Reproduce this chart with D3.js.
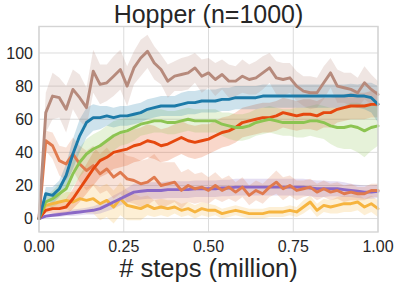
<!DOCTYPE html>
<html><head><meta charset="utf-8">
<script src="https://cdn.jsdelivr.net/npm/d3@7"></script>
<style>body{margin:0;background:#fff}svg{display:block}text{font-family:"Liberation Sans",Arial,sans-serif;fill:#262626}</style>
</head><body><svg id="c" width="399" height="286"></svg>
<script>
const title = "Hopper (n=1000)";
const xLabel = "# steps (million)";
const xTicks = [0, 0.25, 0.5, 0.75, 1.0];
const yTicks = [0, 20, 40, 60, 80, 100];
const steps = d3.range(51).map(i => i * 0.02);

const seriesNames = ["yellow", "purple", "coral", "red", "green", "blue", "brown"];
const seriesColors = ["#f6b43f", "#8a68c6", "#e07a4e", "#e5480f", "#8cc451", "#1c7aa8", "#b68a7c"];

const brownMean = [0,64,74,73,66,78,73,67,89,81,82,86,90,80,91,97,101,94,90,83,86,87,88,91,86,88,84,87,83,83,86,84,85,88,91,85,84,85,80,77,76,76,82,88,80,79,78,76,82,78,75];
const brownSpread = [0,12,14,12,14,12,14,12,13,12,11,12,12,12,10,11,10,10,9,10,9,10,10,9,10,9,10,9,10,9,10,9,10,10,9,10,10,9,9,9,10,9,10,9,10,9,10,9,10,9,8];

const blueMean = [0,15,14,18,26,39,50,58,61,61,62,61,62,62,63,64,66,67,68,68,68,69,70,70,71,71,71,72,72,73,73,73,73,74,74,74,74,74,74,74,74,74,74,74,74,74,74.5,74,74,73,69];
const blueSpread = [0,4,5,5,7,9,10,9,8,7,6,6,6,6,6,6,6,6,6,6,6,7,7,7,7,7,7,7,7,7,7,7,7,7,7,7,7,7,7,7,7,7,7,7,7,7,7,7,8,9,11];

const greenMean = [0,10,12,15,18,27,34,39,42,44,47,50,52,53,55,57,58,59,59,58,58,59,60,59,59,59,59,57,56,55,55,56,58,59,60,59,58,58,58,58,59,59,58,56,55,55,56,55,53,55,56];
const greenSpread = [0,3,5,6,7,8,9,9,9,9,9,9,8,8,8,7,7,7,7,7,7,7,7,7,7,7,7,7,8,8,8,8,8,8,8,8,8,8,9,9,9,10,10,11,12,13,14,15,16,14,12];

const redMean = [0,5,6,6,7,12,18,24,30,35,37,40,41,42,44,45,47,46,44,45,47,49,47,46,47,48,50,52,53,55,58,59,60,61,61,62,64,63,62,63,63,62,64,64,66,67,68,68,68,69,69];
const redSpread = [0,2,3,3,5,6,8,9,10,10,10,10,10,10,10,10,10,10,10,10,10,10,10,10,10,9,9,9,9,9,9,9,9,9,9,9,9,9,9,9,9,9,9,9,8,8,8,8,8,8,8];

const coralMean = [0,47,44,35,33,39,33,29,32,27,30,25,28,24,23,21,22,25,20,21,22,17,20,18,19,17,20,17,19,16,19,14,17,15,19,22,18,20,17,18,19,16,18,16,17,15,16,15,15,17,17];
const coralSpread = [0,6,8,9,10,10,11,12,12,12,13,13,13,14,14,14,14,14,14,13,12,11,10,9,9,8,8,7,7,6,6,6,6,6,6,7,7,6,6,5,5,5,5,5,5,5,5,4,4,4,4];

const purpleMean = [0,1.5,2,2.5,3,3.5,4,4.5,5,6,8,10,12,14,16,16.5,17,17,17,17.5,17.5,17.5,17.5,18,18,18,18,18.5,18.5,19,19,19,19,19,19,19,19,19,19,19,18.5,18,18,18,18,17.5,17,16.5,16,16,16.5];
const purpleSpread = [0,1,1,1.5,1.5,2,2,2,2.5,3,3.5,4,4,4.5,5,5,5,5,5,5,5,5,5,5,5,5,5,5,5,5,5,5,5,5,5,5,5,5,5,5,5,5,5,4.5,4.5,4.5,4,4,4,4,4];

const yellowMean = [0,8,9,10,11,10,12,11,12,9,11,7,12,8,7,6,8,6,7,6,7,5,6,4,6,5,5,3,4,5,4,3,3,3,4,4,4,5,4,7,10,5,8,7,8,9,9,10,7,9,6];
const yellowSpread = [0,3,4,4,5,6,7,8,9,10,10,10,10,9,8,7,6,5,5,5,4,4,4,4,4,4,3,3,3,3,3,3,3,3,3,3,3,3,3,4,4,4,4,4,5,5,5,5,5,5,5];

const means = [yellowMean, purpleMean, coralMean, redMean, greenMean, blueMean, brownMean];
const spreads = [yellowSpread, purpleSpread, coralSpread, redSpread, greenSpread, blueSpread, brownSpread];

const svg = d3.select("#c");
const L = 39, R = 378, T = 26.5, B = 232;
const x = d3.scaleLinear().domain([0, 1]).range([L, R]);
const y = d3.scaleLinear().domain([-8.1, 116]).range([B, T]);

// grid
svg.append("g").selectAll("line").data(yTicks).join("line")
  .attr("x1", L).attr("x2", R).attr("y1", d => y(d)).attr("y2", d => y(d))
  .attr("stroke", "#dcdcdc").attr("stroke-width", 1);
svg.append("g").selectAll("line").data(xTicks).join("line")
  .attr("y1", T).attr("y2", B).attr("x1", d => x(d)).attr("x2", d => x(d))
  .attr("stroke", "#dcdcdc").attr("stroke-width", 1);

const plot = svg.append("g");
const area = d3.area().x(d => x(d.s)).y0(d => y(d.m - d.w)).y1(d => y(d.m + d.w));
const line = d3.line().x(d => x(d.s)).y(d => y(d.m));

const data = seriesNames.map((n, k) => steps.map((s, i) => ({s, m: means[k][i], w: spreads[k][i]})));

data.forEach((d, k) => {
  plot.append("path").attr("d", area(d)).attr("fill", seriesColors[k]).attr("fill-opacity", 0.22).attr("stroke", "none");
});
data.forEach((d, k) => {
  plot.append("path").attr("d", line(d)).attr("fill", "none").attr("stroke", seriesColors[k])
    .attr("stroke-width", 2.9).attr("stroke-linejoin", "round").attr("stroke-linecap", "round");
});

// frame
svg.append("rect").attr("x", L).attr("y", T).attr("width", R - L).attr("height", B - T)
  .attr("fill", "none").attr("stroke", "#d4d4d4").attr("stroke-width", 1.4);

// tick labels
svg.append("g").selectAll("text").data(yTicks).join("text")
  .attr("x", 33).attr("y", d => y(d)).attr("dy", "0.36em").attr("text-anchor", "end")
  .attr("font-size", 16).text(d => d);
svg.append("g").selectAll("text").data(xTicks).join("text")
  .attr("x", d => x(d)).attr("y", 252).attr("text-anchor", "middle")
  .attr("font-size", 16).text(d => d3.format(".2f")(d));

svg.append("text").attr("x", (L + R) / 2).attr("y", 23).attr("text-anchor", "middle")
  .attr("font-size", 25).text(title);
svg.append("text").attr("x", (L + R) / 2).attr("y", 277).attr("text-anchor", "middle")
  .attr("font-size", 25.5).text(xLabel);
</script></body></html>
